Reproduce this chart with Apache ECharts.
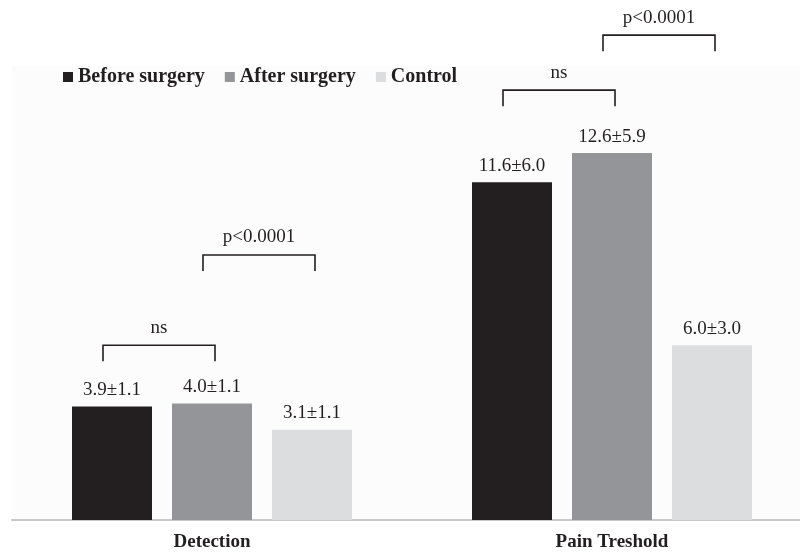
<!DOCTYPE html>
<html>
<head>
<meta charset="utf-8">
<script src="https://cdn.jsdelivr.net/npm/echarts@6/dist/echarts.min.js"></script>
<style>html,body{margin:0;padding:0;background:#fff;overflow:hidden;width:800px;height:558px}#c{width:812px;height:558px}</style>
</head>
<body>
<div id="c"></div>
<script>
var categories = ['Detection', 'Pain Treshold'];
var seriesNames = ['Before surgery', 'After surgery', 'Control'];
var beforeMeans = [3.9, 11.6];
var beforeSD = [1.1, 6.0];
var afterMeans = [4.0, 12.6];
var afterSD = [1.1, 5.9];
var controlMeans = [3.1, 6.0];
var controlSD = [1.1, 3.0];
// brackets: [category index, from series, to series, height (data units), label]
var brackets = [
  [0, 0, 1, 6.0, 'ns'],
  [0, 1, 2, 9.1, 'p<0.0001'],
  [1, 0, 1, 14.76, 'ns'],
  [1, 1, 2, 16.65, 'p<0.0001']
];

var colors = ['#231f20', '#939598', '#dcdddf'];
var BAR_W = 80, BAR_GAP = 20;
var serif = '"Liberation Serif", "Times New Roman", serif';

function barSeries(name, means, sds, color) {
  return {
    name: name, type: 'bar', barWidth: BAR_W, barGap: (BAR_GAP / BAR_W * 100) + '%',
    itemStyle: { color: color },
    data: means.map(function (v, i) { return { value: v, sd: sds[i] }; }),
    label: {
      show: true, position: 'top', distance: 7,
      fontFamily: serif, fontSize: 19, color: '#231f20',
      formatter: function (p) { return p.value.toFixed(1) + '±' + p.data.sd.toFixed(1); }
    }
  };
}

var chart = echarts.init(document.getElementById('c'), null, { renderer: 'canvas' });
chart.setOption({
  animation: false,
  backgroundColor: '#ffffff',
  grid: { left: 12, right: 0, top: 66, bottom: 38, show: true, backgroundColor: '#fcfcfc', borderWidth: 0 },
  legend: {
    left: 58, top: 62, icon: 'rect', itemWidth: 10, itemHeight: 10, itemGap: 20,
    data: seriesNames,
    textStyle: { fontFamily: serif, fontSize: 20, fontWeight: 'bold', color: '#231f20' }
  },
  xAxis: {
    type: 'category', data: categories,
    axisTick: { show: false },
    axisLine: { lineStyle: { color: '#c8c8c8', width: 2 } },
    axisLabel: { margin: 13, fontFamily: serif, fontSize: 19, fontWeight: 'bold', color: '#231f20' }
  },
  yAxis: { type: 'value', min: 0, max: 15.59, show: false, splitLine: { show: false } },
  series: [
    barSeries(seriesNames[0], beforeMeans, beforeSD, colors[0]),
    barSeries(seriesNames[1], afterMeans, afterSD, colors[1]),
    barSeries(seriesNames[2], controlMeans, controlSD, colors[2]),
    {
      type: 'custom', silent: true, clip: false, z: 5,
      encode: { x: 0, y: 3 },
      data: brackets,
      renderItem: function (params, api) {
        var cat = api.value(0), from = api.value(1), to = api.value(2), h = api.value(3);
        var label = brackets[params.dataIndex][4];
        var c = api.coord([cat, h]);
        var step = BAR_W + BAR_GAP;
        var x1 = c[0] + (from - 1) * step - 9;
        var x2 = c[0] + (to - 1) * step + 3;
        var y = c[1], tick = 16;
        return {
          type: 'group',
          children: [
            { type: 'polyline', shape: { points: [[x1, y + tick], [x1, y], [x2, y], [x2, y + tick]] },
              style: { stroke: '#231f20', lineWidth: 1.6, fill: null } },
            { type: 'text', style: { text: label, x: (x1 + x2) / 2, y: y - 8, align: 'center', verticalAlign: 'bottom',
              font: '19px ' + serif, fill: '#231f20' } }
          ]
        };
      }
    }
  ]
});
</script>
</body>
</html>
